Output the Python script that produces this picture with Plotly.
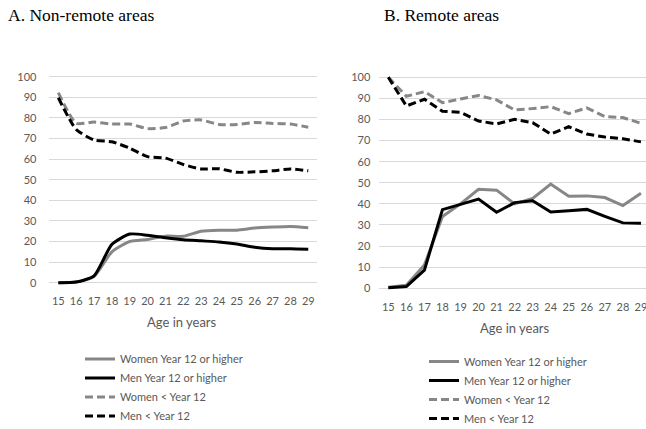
import plotly.graph_objects as go

ages = list(range(15, 30))

# A. Non-remote areas
nr_women_y12 = [0, 0.3, 3, 15, 20, 21, 22.6, 22.5, 25, 25.5, 25.5, 26.5, 27, 27.3, 26.7]
nr_men_y12 = [0, 0.3, 3.3, 18.6, 23.6, 23, 21.8, 20.8, 20.3, 19.8, 18.8, 17.2, 16.5, 16.5, 16.2]
nr_women_lt12 = [92.3, 77.4, 78, 77, 77, 74.8, 75.3, 78.5, 79, 76.8, 76.8, 77.8, 77.3, 77, 75.5]
nr_men_lt12 = [89.8, 74.4, 69.3, 68.4, 65.3, 61.2, 60.5, 57.4, 55.2, 55.3, 53.6, 53.8, 54.3, 55.2, 54.3]

# B. Remote areas
r_women_y12 = [0.5, 1.4, 11, 34, 40, 46.9, 46.5, 40, 42.6, 49.4, 43.6, 43.8, 43, 39.2, 45]
r_men_y12 = [0.3, 0.8, 8.6, 37.3, 39.8, 42.3, 36, 40.6, 41.5, 36.2, 36.8, 37.4, 34.1, 31, 30.8]
r_women_lt12 = [100, 91, 93.2, 88, 89.7, 91.4, 89.3, 84.5, 85.2, 86.1, 82.8, 85.5, 81.4, 80.9, 78.2]
r_men_lt12 = [100, 86.4, 89.6, 83.9, 83.4, 79.3, 77.9, 80.1, 78.5, 73.1, 76.6, 73.1, 71.7, 70.9, 69.4]

series_names = ["Women Year 12 or higher", "Men Year 12 or higher", "Women < Year 12", "Men < Year 12"]
y_ticks = list(range(0, 101, 10))
x_title = "Age in years"
panel_titles = ["A. Non-remote areas", "B. Remote areas"]

GRAY = "#878787"
BLACK = "#000000"
styles = [(GRAY, "solid"), (BLACK, "solid"), (GRAY, "8px,4px"), (BLACK, "8px,4px")]
TXT = "#595959"
FONT = "Lato"

fig = go.Figure()

for data, xa, ya, lg, shape in [
    ([nr_women_y12, nr_men_y12, nr_women_lt12, nr_men_lt12], "x", "y", "legend", "spline"),
    ([r_women_y12, r_men_y12, r_women_lt12, r_men_lt12], "x2", "y2", "legend2", "linear"),
]:
    for name, vals, (col, dash) in zip(series_names, data, styles):
        fig.add_trace(go.Scatter(
            x=ages, y=vals, name=name, mode="lines",
            line=dict(color=col, width=3, dash=dash, shape=shape, smoothing=0.6),
            xaxis=xa, yaxis=ya, legend=lg, hoverinfo="skip",
        ))

W, H = 646, 429

def px(v):
    return v / W

def py(v):
    return (H - v) / H

axis_common = dict(
    tickfont=dict(family=FONT, size=11, color=TXT),
    showline=False, zeroline=False, ticks="", automargin=False,
    ticklabeloverflow="allow",
)

fig.update_layout(
    width=W, height=H,
    margin=dict(l=0, r=0, t=0, b=0, autoexpand=False),
    paper_bgcolor="white", plot_bgcolor="white",
    showlegend=True,
    xaxis=dict(domain=[px(49.4), px(317.2)], range=[14.5, 29.5], tickvals=ages,
               showgrid=False, anchor="y", ticklabelstandoff=6, **axis_common),
    yaxis=dict(domain=[py(286.8), py(72.6)], range=[-2, 102], tickvals=y_ticks,
               showgrid=True, gridcolor="#d9d9d9", gridwidth=1, anchor="x",
               ticklabelstandoff=12, **axis_common),
    xaxis2=dict(domain=[px(379.3), 1.0], range=[14.5, 29.28], tickvals=ages,
                showgrid=False, anchor="y2", ticklabelstandoff=6, **axis_common),
    yaxis2=dict(domain=[py(292.5), py(73.1)], range=[-2, 102], tickvals=y_ticks,
                showgrid=True, gridcolor="#d9d9d9", gridwidth=1, anchor="x2",
                ticklabelstandoff=8, **axis_common),
    legend=dict(x=px(80), y=py(344.5), xanchor="left", yanchor="top",
                font=dict(family=FONT, size=11, color=TXT), bgcolor="rgba(0,0,0,0)",
                tracegroupgap=0),
    legend2=dict(x=px(424), y=py(347), xanchor="left", yanchor="top",
                 font=dict(family=FONT, size=11, color=TXT), bgcolor="rgba(0,0,0,0)",
                 tracegroupgap=0),
    annotations=[
        dict(text=panel_titles[0], x=px(6), y=py(15), xref="paper", yref="paper",
             xanchor="left", yanchor="middle", showarrow=False,
             font=dict(family="Liberation Serif", size=17.5, color="#000")),
        dict(text=panel_titles[1], x=px(382), y=py(15), xref="paper", yref="paper",
             xanchor="left", yanchor="middle", showarrow=False,
             font=dict(family="Liberation Serif", size=17.5, color="#000")),
        dict(text=x_title, x=px(182), y=py(322), xref="paper", yref="paper",
             xanchor="center", yanchor="middle", showarrow=False,
             font=dict(family=FONT, size=13, color=TXT)),
        dict(text=x_title, x=px(515), y=py(328), xref="paper", yref="paper",
             xanchor="center", yanchor="middle", showarrow=False,
             font=dict(family=FONT, size=13, color=TXT)),
    ],
)

fig.write_html("out.html", config={"displayModeBar": False},
               post_script="document.body.style.margin='0';")
